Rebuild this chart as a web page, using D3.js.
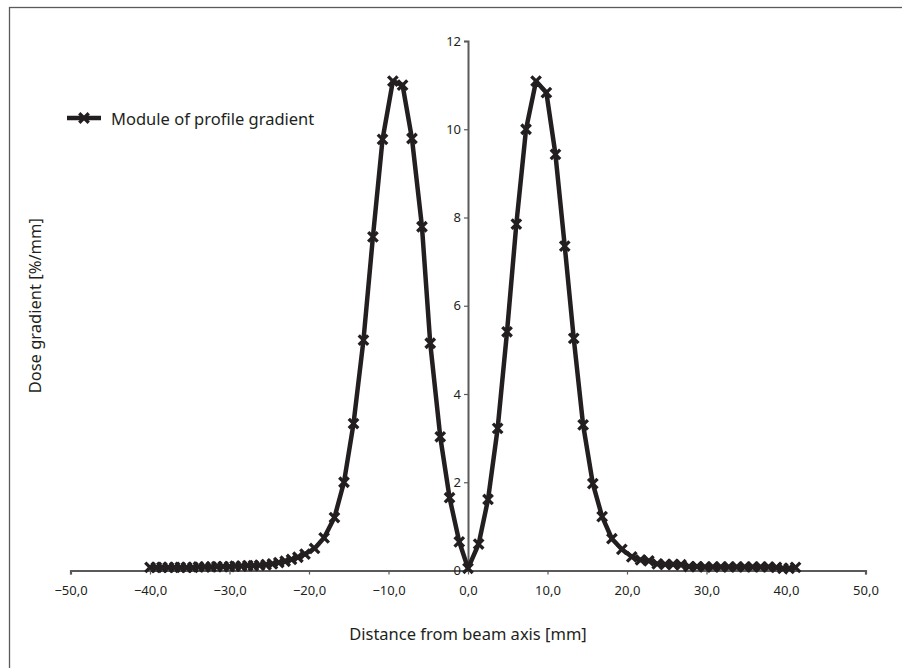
<!DOCTYPE html>
<html>
<head>
<meta charset="utf-8">
<script src="https://cdn.jsdelivr.net/npm/d3@7"></script>
<style>
  body { margin: 0; background: #fff; }
  text { font-family: "Noto Sans", sans-serif; fill: #231f20; }
</style>
</head>
<body>
<svg id="chart"></svg>
<script>
// distance from beam axis [mm] and module of profile gradient [%/mm]
const distance = [
  -40.0, -39.2, -38.5, -37.7, -36.9, -36.2, -35.4, -34.6, -33.9, -33.1,
  -32.3, -31.6, -30.8, -30.0, -29.3, -28.5, -27.7, -27.0, -26.2, -25.4,
  -24.6, -23.8, -23.0, -22.2, -21.4, -20.5, -19.3, -18.1, -16.8, -15.6,
  -14.4, -13.15, -11.96, -10.75, -9.45, -8.23, -7.05, -5.79, -4.75, -3.49,
  -2.32, -1.1, 0.0, 1.34, 2.52, 3.73, 4.91, 6.08, 7.3, 8.56,
  9.86, 11.0, 12.17, 13.3, 14.48, 15.7, 16.87, 18.1, 19.35, 20.6,
  21.7, 22.75, 23.8, 24.8, 25.8, 26.8, 27.8, 28.8, 29.8, 30.8,
  31.8, 32.8, 33.8, 34.8, 35.8, 36.8, 37.8, 38.8, 39.6, 40.4, 41.2
];
const gradient = [
  0.07, 0.07, 0.07, 0.07, 0.07, 0.07, 0.07, 0.07, 0.08, 0.08,
  0.08, 0.09, 0.09, 0.09, 0.1, 0.1, 0.11, 0.11, 0.12, 0.13,
  0.15, 0.18, 0.21, 0.25, 0.3, 0.37, 0.5, 0.74, 1.2, 2.0,
  3.33, 5.22, 7.56, 9.77, 11.09, 11.0, 9.79, 7.79, 5.15, 3.03,
  1.65, 0.65, 0.05, 0.6, 1.61, 3.22, 5.41, 7.85, 10.0, 11.09,
  10.83, 9.43, 7.35, 5.26, 3.3, 1.97, 1.22, 0.72, 0.48, 0.31,
  0.24, 0.22, 0.15, 0.14, 0.14, 0.13, 0.09, 0.09, 0.08, 0.08,
  0.08, 0.08, 0.08, 0.08, 0.08, 0.08, 0.08, 0.07, 0.05, 0.05, 0.07
];
const xTicks = [-50, -40, -30, -20, -10, 0, 10, 20, 30, 40, 50];
const yTicks = [0, 2, 4, 6, 8, 10, 12];
const seriesName = "Module of profile gradient";

const width = 902, height = 668;
const svg = d3.select("#chart").attr("width", width).attr("height", height);

const x = d3.scaleLinear().domain([-50, 50]).range([70.5, 865.5]);
const y = d3.scaleLinear().domain([0, 12]).range([570.5, 41]);
const axisColor = "#5a5a5a";
const ink = "#231f20";

// outer frame (only top and left edges fall inside the picture)
svg.append("rect")
  .attr("x", 9.5).attr("y", 7.5).attr("width", 1000).attr("height", 1000)
  .attr("fill", "none").attr("stroke", axisColor).attr("stroke-width", 1.3);

const fmt = v => d3.format(".1f")(v).replace(".", ",").replace("-", "\u2013");

// x axis
const xAxis = svg.append("g")
  .attr("transform", `translate(0,${y(0)})`)
  .call(d3.axisBottom(x).tickValues(xTicks).tickFormat(fmt).tickSize(4).tickSizeOuter(4));
xAxis.select(".domain").attr("stroke", axisColor).attr("stroke-width", 2.2);
xAxis.selectAll(".tick line").attr("stroke", axisColor).attr("stroke-width", 1.2);
xAxis.selectAll(".tick text")
  .attr("dy", "1.35em").style("font-size", "13px").style("font-family", "Noto Sans").attr("fill", ink);

// y axis
const yAxis = svg.append("g")
  .attr("transform", `translate(${x(0)},0)`)
  .call(d3.axisLeft(y).tickValues(yTicks).tickFormat(d3.format("d")).tickSize(4).tickSizeOuter(4));
yAxis.select(".domain").attr("stroke", axisColor).attr("stroke-width", 2);
yAxis.selectAll(".tick line").attr("stroke", axisColor).attr("stroke-width", 1.2);
yAxis.selectAll(".tick text")
  .attr("x", -7).style("font-size", "13px").style("font-family", "Noto Sans").attr("fill", ink);

// series
const data = distance.map((d, i) => ({ x: d, y: gradient[i] }));
const line = d3.line().x(d => x(d.x)).y(d => y(d.y));
svg.append("path").datum(data)
  .attr("d", line).attr("fill", "none")
  .attr("stroke", ink).attr("stroke-width", 4.5).attr("stroke-linejoin", "round");

const marker = d3.symbol().type(d3.symbolTimes).size(60);
svg.append("g").selectAll("path.m").data(data).enter().append("path")
  .attr("class", "m")
  .attr("transform", d => `translate(${x(d.x)},${y(d.y)})`)
  .attr("d", marker).attr("fill", "none").attr("stroke", ink).attr("stroke-width", 3.3);

// legend
const leg = svg.append("g").attr("transform", "translate(67,118)");
leg.append("line").attr("x1", 0).attr("x2", 34).attr("y1", 0).attr("y2", 0)
  .attr("stroke", ink).attr("stroke-width", 4.5);
leg.append("path").attr("transform", "translate(17,0)").attr("d", marker)
  .attr("fill", "none").attr("stroke", ink).attr("stroke-width", 3.3);
leg.append("text").attr("x", 44).attr("y", 6.5).style("font-size", "16.5px").text(seriesName);

// axis titles
svg.append("text")
  .attr("x", x(0)).attr("y", 640).attr("text-anchor", "middle")
  .style("font-size", "16.5px").text("Distance from beam axis [mm]");
svg.append("text")
  .attr("transform", `translate(41,${(y(0) + y(12)) / 2}) rotate(-90)`)
  .attr("text-anchor", "middle").style("font-size", "16.5px").text("Dose gradient [%/mm]");
</script>
</body>
</html>
